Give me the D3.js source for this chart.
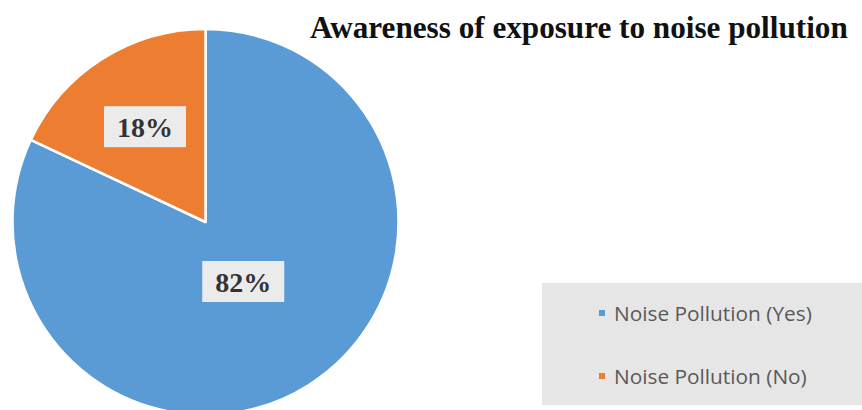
<!DOCTYPE html>
<html>
<head>
<meta charset="utf-8">
<script src="https://cdn.jsdelivr.net/npm/d3@7"></script>
<style>
  html, body { margin: 0; padding: 0; background: #ffffff; }
  svg { display: block; }
</style>
</head>
<body>
<svg id="chart" width="862" height="410"></svg>
<script>
const categories = ["Noise Pollution (Yes)", "Noise Pollution (No)"];
const values = [82, 18];
const valueLabels = ["82%", "18%"];
const colors = ["#5b9bd5", "#ed7d31"];
const title = "Awareness of exposure to noise pollution";

const svg = d3.select("#chart");
const W = 862, H = 410;
const cx = 205.5, cy = 222, R = 193;

const pie = d3.pie().sort(null).value(d => d)(values);
const arc = d3.arc().innerRadius(0).outerRadius(R);

const g = svg.append("g").attr("transform", `translate(${cx},${cy})`);
g.selectAll("path.slice")
  .data(pie)
  .join("path")
  .attr("class", "slice")
  .attr("d", arc)
  .attr("fill", (d, i) => colors[i])
  .attr("stroke", "#ffffff")
  .attr("stroke-width", 2.5)
  .attr("stroke-linejoin", "round");

// data labels (Excel-style best-fit placement)
const labelRadiusFrac = [0.365, 0.585];
pie.forEach((d, i) => {
  const la = d3.arc().innerRadius(R * labelRadiusFrac[i]).outerRadius(R * labelRadiusFrac[i]);
  const [x, y] = la.centroid(d);
  const lg = g.append("g").attr("transform", `translate(${x},${y})`);
  const t = lg.append("text")
    .attr("text-anchor", "middle")
    .attr("dominant-baseline", "central")
    .attr("font-family", "'Liberation Serif', 'Times New Roman', serif")
    .attr("font-weight", "bold")
    .attr("font-size", 28)
    .attr("fill", "#333333")
    .text(valueLabels[i]);
  const w = 82, h = 41;
  lg.insert("rect", "text")
    .attr("x", -w / 2).attr("y", -h / 2)
    .attr("width", w).attr("height", h)
    .attr("fill", "#ebebeb");
  t.attr("y", 1);
});

// title
const tt = svg.append("text")
  .attr("x", 310).attr("y", 38)
  .attr("font-family", "'Liberation Serif', 'Times New Roman', serif")
  .attr("font-weight", "bold")
  .attr("font-size", 26)
  .attr("fill", "#111111")
  .text(title);
const tw = tt.node().getComputedTextLength();
tt.attr("font-size", 26 * 538 / tw);

// legend
svg.append("rect")
  .attr("x", 542).attr("y", 283)
  .attr("width", W - 542).attr("height", 122)
  .attr("fill", "#e7e6e6");

const ly = d3.scalePoint().domain(categories).range([313, 376]);
const items = svg.selectAll("g.leg")
  .data(categories)
  .join("g")
  .attr("class", "leg")
  .attr("transform", d => `translate(602,${ly(d)})`);
items.append("rect")
  .attr("x", -3).attr("y", -3).attr("width", 6).attr("height", 6)
  .attr("fill", (d, i) => colors[i]);
const lt = items.append("text")
  .attr("x", 12).attr("y", 0)
  .attr("dominant-baseline", "central")
  .attr("font-family", "'Open Sans', 'Noto Sans', sans-serif")
  .attr("font-size", 15)
  .attr("fill", "#595959")
  .text(d => d);
const lw = lt.nodes()[0].getComputedTextLength();
lt.attr("font-size", 15 * 198 / lw);
</script>
</body>
</html>
